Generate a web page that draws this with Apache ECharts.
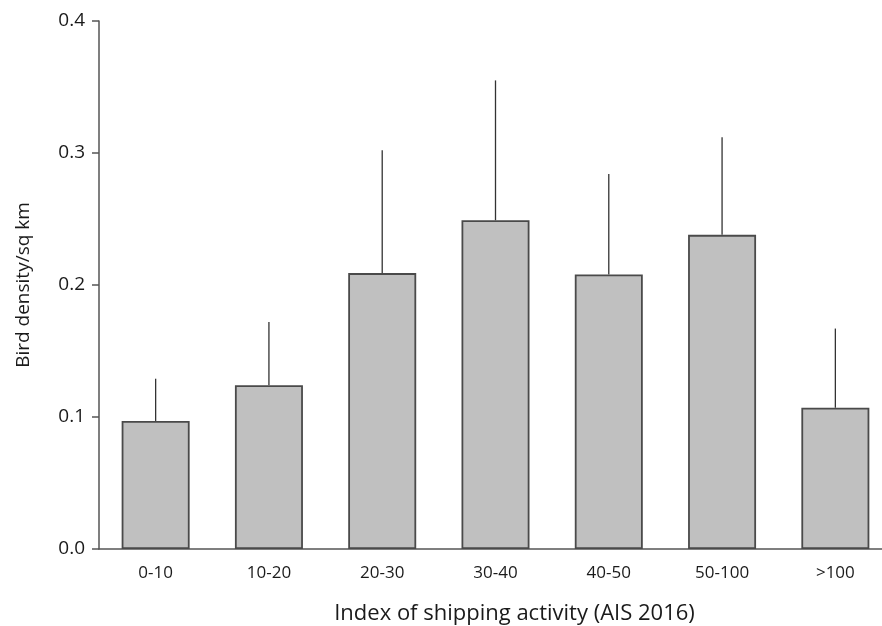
<!DOCTYPE html>
<html>
<head>
<meta charset="utf-8">
<script src="https://cdn.jsdelivr.net/npm/echarts@6/dist/echarts.min.js"></script>
<style>html,body{margin:0;padding:0;background:#fff;overflow:hidden}#c{width:882px;height:626px}</style>
</head>
<body>
<div id="c"></div>
<script>
const categories = ['0-10','10-20','20-30','30-40','40-50','50-100','>100'];
const density = [0.097, 0.124, 0.209, 0.249, 0.208, 0.238, 0.107];
const errorTop = [0.129, 0.172, 0.302, 0.355, 0.284, 0.312, 0.167];
const yTicks = [0, 0.1, 0.2, 0.3, 0.4];

const FONT = '"Open Sans", sans-serif';
const chart = echarts.init(document.getElementById('c'), null, {renderer:'canvas'});
chart.setOption({
  animation: false,
  backgroundColor: '#fff',
  grid: {left: 99, width: 793, top: 21, bottom: 77, containLabel: false, outerBoundsMode: 'none'},
  xAxis: {
    type: 'category',
    data: categories,
    name: 'Index of shipping activity (AIS 2016)',
    nameLocation: 'middle',
    nameGap: 54,
    nameTextStyle: {fontFamily: FONT, fontSize: 22, color: '#1a1a1a', padding: [0, 0, 0, 38]},
    axisLine: {lineStyle: {color: '#555', width: 1.5}},
    axisTick: {alignWithLabel: true, length: 7, lineStyle: {color: '#444', width: 1.5}},
    axisLabel: {fontFamily: FONT, fontSize: 17, color: '#1a1a1a', margin: 16}
  },
  yAxis: {
    type: 'value',
    min: 0, max: 0.4, interval: 0.1,
    name: 'Bird density/sq km',
    nameLocation: 'middle',
    nameGap: 66,
    nameTextStyle: {fontFamily: FONT, fontSize: 19, color: '#1a1a1a'},
    axisLine: {show: true, lineStyle: {color: '#555', width: 1.5}},
    axisTick: {show: true, length: 7, lineStyle: {color: '#555', width: 1.5}},
    splitLine: {show: false},
    axisLabel: {fontFamily: FONT, fontSize: 19, color: '#1a1a1a', margin: 14,
      formatter: v => yTicks.includes(Math.round(v*10)/10) ? v.toFixed(1) : ''}
  },
  series: [
    {
      type: 'bar',
      data: density,
      barWidth: 68,
      itemStyle: {color: '#c0c0c0', borderColor: '#4a4a4a', borderWidth: 1.8},
      z: 2
    },
    {
      type: 'custom',
      data: density.map((v, i) => [i, v, errorTop[i]]),
      renderItem: function (params, api) {
        const p0 = api.coord([api.value(0), api.value(1)]);
        const p1 = api.coord([api.value(0), api.value(2)]);
        return {
          type: 'line',
          shape: {x1: p0[0], y1: p0[1], x2: p1[0], y2: p1[1]},
          style: {stroke: '#333', lineWidth: 1.3}
        };
      },
      z: 1
    }
  ]
});
</script>
</body>
</html>
